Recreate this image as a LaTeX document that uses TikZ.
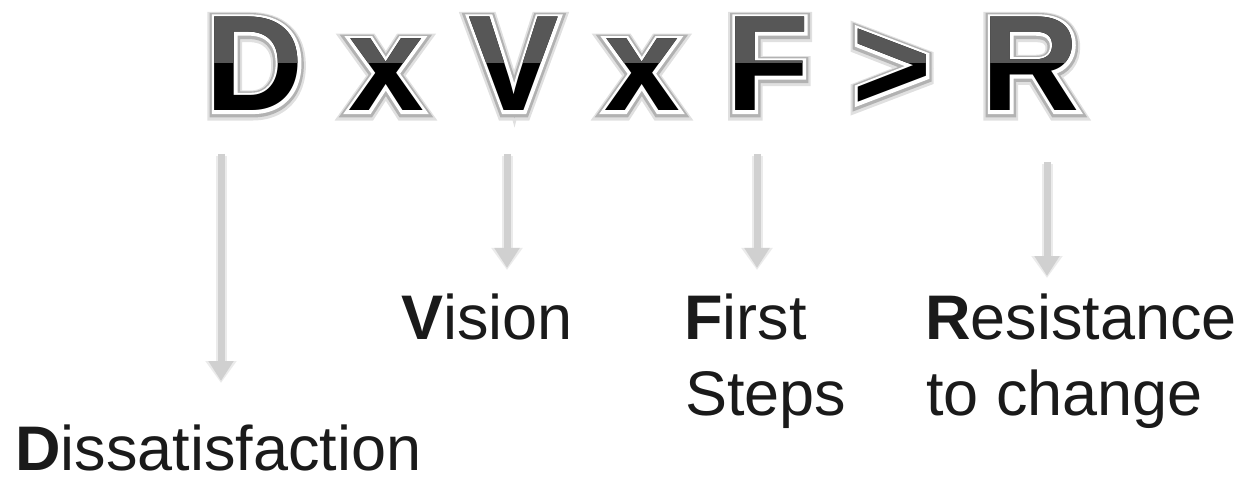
\documentclass[tikz,border=0pt]{standalone}
\usepackage{fontspec}
\setmainfont{Liberation Sans}
\newfontfamily\outlinefnt{Liberation Sans Bold}[FakeBold=4.5]
\newfontfamily\shadowfnt{Liberation Sans Bold}[FakeBold=8]
\newfontfamily\glowfnt{Liberation Sans Bold}[FakeBold=11]
\usetikzlibrary{arrows.meta}
\definecolor{uppergray}{HTML}{575757}
\definecolor{arrowgray}{HTML}{D0D0D0}
\definecolor{labelcol}{HTML}{1A1A1A}
\tikzset{
  letter/.style={anchor=base, inner sep=0pt, font=\fontsize{136}{136}\selectfont\bfseries},
  outl/.style={anchor=base, inner sep=0pt, font=\fontsize{136}{136}\outlinefnt},
  shad/.style={anchor=base, inner sep=0pt, font=\fontsize{136}{136}\shadowfnt},
  glow/.style={anchor=base, inner sep=0pt, font=\fontsize{136}{136}\glowfnt},
  lbl/.style={anchor=base west, inner sep=0pt, text=labelcol, font=\fontsize{63}{76}\selectfont},
  arr/.style={draw=arrowgray, line width=7pt, -{Triangle[length=20pt,width=24pt]}},
  arrshadow/.style={draw=black!8, line width=11pt, -{Triangle[length=22pt,width=30pt]}}
}
\newcommand\glyphstack[3]{%
  \node[glow,text=black!12,yshift=-2pt] at (#2,-111) {#3};
  \node[shad,text=black!30,yshift=-1pt] at (#2,-111) {#3};
  \node[outl,text=white] at (#2,-111) {#3};
  \node[letter,text=black] (#1) at (#2,-111) {#3};
  \begin{scope}
    \clip (#2-80,0) rectangle (#2+80,-63);
    \node[letter,text=uppergray] at (#2,-111) {#3};
  \end{scope}
}
\begin{document}
\begin{tikzpicture}[x=1pt,y=1pt]
\useasboundingbox (0,0) rectangle (1249,-478);
\glyphstack{D}{255}{D}
\glyphstack{x1}{386}{x}
\glyphstack{V}{514}{V}
\glyphstack{x2}{642}{x}
\glyphstack{F}{768}{F}
\glyphstack{gt}{892}{>}
\glyphstack{R}{1031}{R}

\coordinate (dS) at (221,-154);
\coordinate (dE) at (221,-381);
\coordinate (vS) at (507,-154);
\coordinate (vE) at (507,-268);
\coordinate (fS) at (757,-154);
\coordinate (fE) at (757,-268);
\coordinate (rS) at (1047,-162);
\coordinate (rE) at (1047,-276);

\foreach \s/\e in {dS/dE,vS/vE,fS/fE,rS/rE}{
  \draw[arrshadow] ([yshift=-2pt]\s) -- ([yshift=-2pt]\e);
  \draw[arr] (\s) -- (\e);
}

\node[lbl] (diss) at (15,-470) {\textbf{D}issatisfaction};
\node[lbl] (vis) at (401,-339) {\textbf{V}ision};
\node[lbl] (first) at (684,-339) {\textbf{F}irst};
\node[lbl] (steps) at (685,-415) {Steps};
\node[lbl] (res) at (925,-339) {\textbf{R}esistance};
\node[lbl] (toch) at (926,-415) {to change};
\end{tikzpicture}
\end{document}
